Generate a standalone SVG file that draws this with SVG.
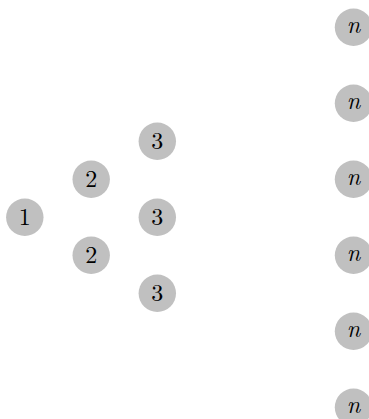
<svg xmlns="http://www.w3.org/2000/svg" width="369" height="419" viewBox="0 0 369 419">
<style>
.nd circle{fill:#c0c0c0;stroke:none}
.nd text{font-family:"Latin Modern Roman","Liberation Serif","DejaVu Serif",serif;font-size:24px;fill:#000;text-anchor:middle}
.nd text.m{font-style:italic}
</style>
<rect width="369" height="419" fill="#fff"/>
<g id="edges"></g>
<g id="n1" class="nd"><circle cx="24.8" cy="217.3" r="18.7"/><text x="24.8" y="225.3">1</text></g>
<g id="n2a" class="nd"><circle cx="91.2" cy="179.3" r="18.7"/><text x="91.2" y="187.3">2</text></g>
<g id="n2b" class="nd"><circle cx="91.2" cy="255.3" r="18.7"/><text x="91.2" y="263.3">2</text></g>
<g id="n3a" class="nd"><circle cx="157.3" cy="141.3" r="18.7"/><text x="157.3" y="149.3">3</text></g>
<g id="n3b" class="nd"><circle cx="157.3" cy="217.3" r="18.7"/><text x="157.3" y="225.3">3</text></g>
<g id="n3c" class="nd"><circle cx="157.3" cy="293.3" r="18.7"/><text x="157.3" y="301.3">3</text></g>
<g id="nn1" class="nd"><circle cx="353.5" cy="27.3" r="18.7"/><text class="m" x="353.5" y="32.8">n</text></g>
<g id="nn2" class="nd"><circle cx="353.5" cy="103.3" r="18.7"/><text class="m" x="353.5" y="108.8">n</text></g>
<g id="nn3" class="nd"><circle cx="353.5" cy="179.3" r="18.7"/><text class="m" x="353.5" y="184.8">n</text></g>
<g id="nn4" class="nd"><circle cx="353.5" cy="255.3" r="18.7"/><text class="m" x="353.5" y="260.8">n</text></g>
<g id="nn5" class="nd"><circle cx="353.5" cy="331.3" r="18.7"/><text class="m" x="353.5" y="336.8">n</text></g>
<g id="nn6" class="nd"><circle cx="353.5" cy="407.3" r="18.7"/><text class="m" x="353.5" y="412.8">n</text></g>
</svg>
